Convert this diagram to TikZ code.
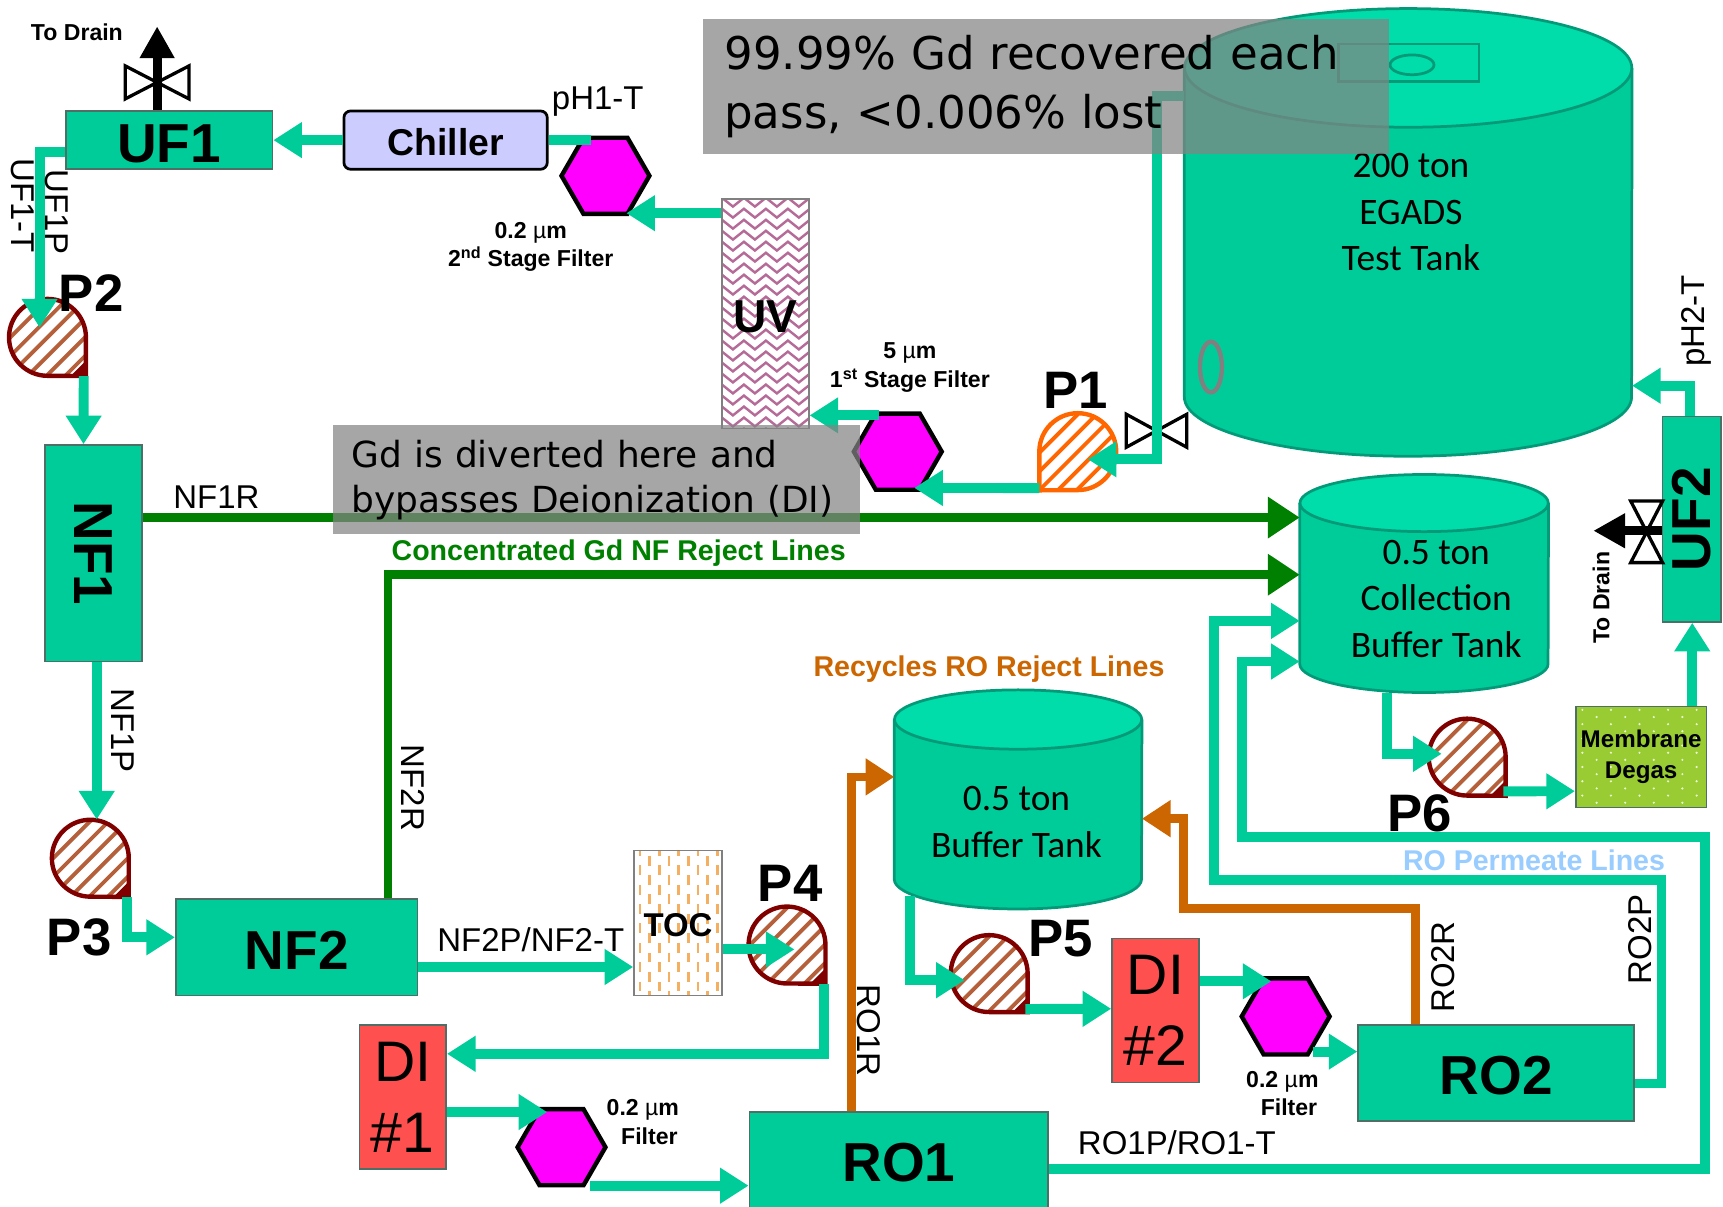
\documentclass[tikz,border=0pt]{standalone}
\usepackage{fontspec}
\usepackage{graphicx}
\usepackage{xcolor}
\usepackage{tikz}
\usetikzlibrary{arrows.meta,shapes.geometric,calc,decorations.pathmorphing}
\setmainfont{Liberation Sans}
\newfontfamily\tankfont{Carlito}
\newfontfamily\notefont{DejaVu Sans}
\definecolor{teal}{HTML}{00CC99}
\definecolor{tealtop}{HTML}{00DDAA}
\definecolor{tankbd}{HTML}{009A78}
\definecolor{boxbd}{HTML}{4F6F66}
\definecolor{nfgreen}{HTML}{008000}
\definecolor{rorange}{HTML}{CC6600}
\definecolor{direct}{HTML}{FF5050}
\definecolor{chill}{HTML}{CCCCFF}
\definecolor{degas}{HTML}{99CC33}
\definecolor{filterpink}{HTML}{FF00FF}
\definecolor{pumpred}{HTML}{800000}
\definecolor{pumphatch}{HTML}{B5603A}
\definecolor{pumporange}{HTML}{FF6600}
\definecolor{permblue}{HTML}{99CCFF}
\definecolor{notegray}{HTML}{848484}
\definecolor{uvline}{HTML}{B56A98}
\definecolor{tocdash}{HTML}{F4B060}
\newcommand{\fs}[1]{\fontsize{#1}{1.2\dimexpr#1pt\relax}\selectfont}
\newcommand{\dn}[2]{\raisebox{-#1}[\height][\depth]{#2}}
\tikzset{
  unit/.style={draw=boxbd,fill=teal,line width=1.5pt,inner sep=0pt,
               font=\fs{50}\bfseries},
  redunit/.style={draw=boxbd,fill=direct,line width=1.5pt,inner sep=0pt,
                  align=center,font=\fontsize{52}{64}\selectfont},
  tankhead/.style={rectangle,inner sep=0pt},
  tankline/.style={draw=tankbd,line width=2.5pt},
  tanktext/.style={align=center,font=\tankfont\fontsize{34}{42}\selectfont},
  hexf/.style={regular polygon,regular polygon sides=6,minimum size=80pt,
               inner sep=0pt,draw=black,fill=filterpink,line width=4pt},
  pumphead/.style={circle,minimum size=70pt,inner sep=0pt},
  pumpbody/.style 2 args={draw=#1,fill=white,line width=4pt,miter limit=10,
    path picture={\foreach \k in {-5,...,5}{
      \draw[#2,line width=3.5pt]
        ($(path picture bounding box.center)+(\k*17-50,50)$)--++(100,-100);}}},
  flow/.style={draw=teal,line width=9pt,-{Triangle[length=26pt,width=31pt]}},
  plainflow/.style={draw=teal,line width=9pt},
  reject/.style={draw=nfgreen,line width=8pt,-{Triangle[length=29pt,width=36pt]}},
  recycle/.style={draw=rorange,line width=8pt,-{Triangle[length=26pt,width=32pt]}},
  drain/.style={draw=black,line width=8pt,-{Triangle[length=29pt,width=30pt]}},
  valve/.style={draw=black,fill=white,line width=3pt},
  lbl/.style={font=\fs{30}},
  small/.style={align=center,font=\fontsize{21}{26}\selectfont\bfseries},
  pname/.style={font=\fs{48}\bfseries},
  linetitle/.style={font=\fs{26}\bfseries},
  note/.style={fill=notegray,fill opacity=.72,text opacity=1,anchor=north west,
               inner sep=0pt,align=left},
  uvfill/.style={path picture={\foreach \k in {0,...,21}{
      \draw[draw=uvline,line width=2.2pt,decorate,
            decoration={zigzag,segment length=20pt,amplitude=4pt}]
        ($(path picture bounding box.north west)+(-5,3+\k*10)$)--++(110,0);}}},
  tocfill/.style={path picture={\foreach \i in {0,...,9}{\foreach \j in {0,...,8}{
      \pgfmathsetmacro{\dy}{-4+\j*17.6+mod(\i,2)*8.8}
      \draw[draw=tocdash,line width=2.4pt]
        ($(path picture bounding box.north west)+(5.5+\i*8.8,\dy)$)--++(0,9);}}}},
  dotfill/.style={path picture={\foreach \i in {0,...,9}{\foreach \j in {0,...,7}{
      \pgfmathsetmacro{\dy}{3+\j*13+mod(\i,2)*6.5}
      \fill[white!80!degas]
        ($(path picture bounding box.north west)+(6+\i*13,\dy)$) circle (1.1pt);}}}},
}
\begin{document}
\begin{tikzpicture}[x=1pt,y=-1pt]
  \useasboundingbox (0,0) rectangle (1568,1098);
  % tanks
  \foreach \t/\cx/\cy/\rx/\ry/\h in {maintank/1281.5/211.5/203.5/54/407,
      colltank/1296/531/113/26/198,buftank/926.5/727.5/112.5/27/199}{
    \node[tankhead,minimum width=2*\rx pt,minimum height=\h pt] (\t) at (\cx,\cy){};
    \draw[tankline,fill=teal] ($(\t.north west)+(0,\ry)$) -- ($(\t.south west)+(0,-\ry)$)
      arc[x radius=\rx pt,y radius=\ry pt,start angle=180,end angle=360]
      -- ($(\t.north east)+(0,\ry)$);
    \draw[tankline,fill=tealtop] ($(\t.north)+(0,\ry)$) ellipse [x radius=\rx pt,y radius=\ry pt];
  }
  \draw[tankbd,line width=2.5pt] (1218,40) rectangle (1346,74);
  \draw[tankbd,line width=2.5pt] (1285,59) ellipse (20 and 9);
  \draw[gray,line width=4pt] (1102,334) ellipse (10 and 23);
  \node[tanktext] (maintxt) at (1284,193){200 ton\\EGADS\\Test Tank};
  \node[tanktext] (colltxt) at (1307,545){0.5 ton\\Collection\\Buffer Tank};
  \node[tanktext] (buftxt) at (925,748){0.5 ton\\Buffer Tank};
  % units
  \node[unit,minimum width=188pt,minimum height=53pt] (uf1) at (154,127.5){\dn{3pt}{UF1}};
  \node[draw=black,fill=chill,rounded corners=6pt,line width=2.5pt,minimum width=185pt,
        minimum height=53pt,inner sep=0pt,font=\fs{34}\bfseries] (chiller) at (405.5,127.5){\dn{2pt}{Chiller}};
  \node[unit,minimum width=88pt,minimum height=197pt] (nf1) at (85,503.5){\rotatebox{-90}{NF1}};
  \node[unit,minimum width=220pt,minimum height=88pt] (nf2) at (270,862){\dn{3pt}{NF2}};
  \node[unit,minimum width=272pt,minimum height=92pt] (ro1) at (818,1058){RO1};
  \node[unit,minimum width=251pt,minimum height=87pt] (ro2) at (1361.5,976.5){\dn{2pt}{RO2}};
  \node[unit,minimum width=53pt,minimum height=187pt] (uf2) at (1539.5,472.5){\rotatebox{90}{UF2}};
  \node[redunit,minimum width=79pt,minimum height=131pt] (di1) at (366.5,998.5){DI\\\#1};
  \node[redunit,minimum width=79pt,minimum height=131pt] (di2) at (1051.5,919.5){DI\\\#2};
  \node[draw=gray,fill=white,line width=1.5pt,uvfill,minimum width=79pt,minimum height=209pt,
        inner sep=0pt,font=\fs{42}\bfseries] (uv) at (696.5,285.5){\dn{3pt}{UV}};
  \node[draw=gray,fill=white,line width=1.5pt,tocfill,minimum width=80pt,minimum height=132pt,
        inner sep=0pt,font=\fs{30}\bfseries] (toc) at (617,840){\dn{2pt}{TOC}};
  \node[draw=boxbd,fill=degas,line width=1.5pt,dotfill,minimum width=119pt,minimum height=92pt,
        inner sep=0pt,align=center,font=\fontsize{22}{28}\selectfont\bfseries] (degas) at (1493.5,689){Membrane\\Degas};
  % filters
  \node[hexf] (hex1) at (817,411){};
  \node[hexf] (hex2) at (551,160){};
  \node[hexf] (hex3) at (511,1044){};
  \node[hexf] (hex4) at (1170,925){};
  % pumps
  \foreach \p/\x/\y in {p2/43/307,p3/82/781,p4/716/860,p5/900/886,p6/1335/689}{
    \node[pumphead] (\p) at (\x,\y){};
    \draw[pumpbody={pumpred}{pumphatch}] (\p.east) arc[start angle=0,end angle=270,radius=35pt]
      -- (\p.east |- \p.south) -- cycle;
    \fill[pumpred] (\p.east |- \p.south) -- ++(-14,0) -- ++(14,-14) -- cycle;
  }
  \node[pumphead] (p1) at (981,411){};
  \draw[pumpbody={pumporange}{pumporange}] (p1.west) arc[start angle=180,end angle=-90,radius=35pt]
    -- (p1.west |- p1.south) -- cycle;
  % valves
  \draw[valve] (114,60)--(172,90)--(172,60)--(114,90)--cycle;
  \draw[valve] (1025,377)--(1080,407)--(1080,377)--(1025,407)--cycle;
  \draw[valve] (1484,456)--(1513,512)--(1484,512)--(1513,456)--cycle;
  % drains
  \coordinate (drain1) at (143,24);
  \coordinate (drain2) at (1450,483);
  \draw[drain] (uf1.north -| 143,0) -- (drain1);
  \draw[drain] (uf2.west |- 0,483) -- (drain2);
  % process line
  \draw[flow] (chiller.west) -- (uf1.east);
  \draw[plainflow] (chiller.east) -- (538,127.5);
  \draw[flow] (uv.west |- 0,194) -- (570,194);
  \draw[flow] (uf1.west |- 0,138) -| ([xshift=-7pt,yshift=9pt]p2.center);
  \draw[flow] (p2.east |- p2.south) ++(-2,0) -- (nf1.north -| 76,0);
  \draw[flow] (nf1.south -| 88,0) -- (p3.north -| 88,0);
  \draw[flow] (p3.east |- p3.south) ++(-2,0) |- (nf2.west |- 0,853);
  \draw[flow] (nf2.east |- 0,880) -- (toc.west |- 0,880);
  \draw[flow] (toc.east |- 0,864) -- ([xshift=7pt,yshift=-4pt]p4.center);
  \draw[flow] (p4.east |- p4.south) ++(-1,0) |- (di1.east |- 0,959);
  \draw[flow] (di1.east |- 0,1012) -- (498,1012);
  \draw[flow] (537,1079) -- (ro1.west |- 0,1079);
  \draw[flow] (buftank.west |- 0,815) ++(14,0) |- ([xshift=-22pt,yshift=-6pt]p5.center);
  \draw[flow] (p5.east |- p5.south) ++(-2,-3) -- (di2.west |- 0,918);
  \draw[flow] (di2.east |- 0,893) -- (1157,893);
  \draw[flow] (1195,957) -- (ro2.west |- 0,957);
  \draw[flow] (colltank.south -| 1262,0) |- ([xshift=-23pt,yshift=3pt]p6.center);
  \draw[flow] (p6.east |- p6.south) ++(-2,-4) -- (degas.west |- 0,720);
  \draw[flow] (degas.north -| 1540,0) -- (uf2.south -| 1540,0);
  \draw[flow] (uf2.north -| 1538,0) |- (maintank.east |- 0,351);
  \draw[flow] (p1.west |- p1.south) ++(0,-2) -- (832,444);
  \draw[flow] (800,378) -- (uv.east |- 0,378);
  \draw[flow] (maintank.west |- 0,87) -| (1053,418) -- ([xshift=9pt,yshift=-7pt]p1.center);
  % RO permeate
  \draw[flow] (ro1.east |- 0,1064) -| (1552,762) -| (1130,602) -- (colltank.west |- 0,602);
  \draw[flow] (ro2.east |- 0,986) -| (1512,801) -| (1105,565) -- (colltank.west |- 0,565);
  % rejects
  \draw[reject] (nf1.east |- 0,471) -- (colltank.west |- 0,471);
  \draw[reject] (nf2.north -| 353,0) |- (colltank.west |- 0,523);
  \draw[recycle] (ro1.north -| 775,0) |- (buftank.west |- 0,707);
  \draw[recycle] (ro2.north -| 1288,0) -- (1288,827) -| (1077,745) -- (buftank.east |- 0,745);
  % labels
  \node[font=\fontsize{21}{26}\selectfont\bfseries] (todrain1) at (70,29){To Drain};
  \node[small,rotate=90] (todrain2) at (1457,544){To Drain};
  \node[lbl] (ph1) at (544,92.5){pH1-T};
  \node[lbl,rotate=90] (ph2) at (1544,292){pH2-T};
  \node[lbl,rotate=-90] (uf1p) at (52,193){UF1P};
  \node[lbl,rotate=-90] (uf1t) at (21,187){UF1-T};
  \node[lbl] (nf1r) at (197,452){NF1R};
  \node[lbl,rotate=-90] (nf1p) at (112,665){NF1P};
  \node[lbl,rotate=-90] (nf2r) at (376,717){NF2R};
  \node[lbl] (nf2p) at (483,855){NF2P/NF2-T};
  \node[lbl,rotate=-90] (ro1r) at (791,938){RO1R};
  \node[lbl] (ro1p) at (1071,1040){RO1P/RO1-T};
  \node[lbl,rotate=90] (ro2r) at (1313,880){RO2R};
  \node[lbl,rotate=90] (ro2p) at (1493,855){RO2P};
  \node[small] (f2lab) at (483,224.5){0.2 {\mdseries µ}m\\2\textsuperscript{nd} Stage Filter};
  \node[small] (f1lab) at (828,334.5){5 {\mdseries µ}m\\1\textsuperscript{st} Stage Filter};
  \node[small] (f3lab) at (585,1021){0.2 {\mdseries µ}m\\\hspace*{12pt}Filter};
  \node[small] (f4lab) at (1167,995){0.2 {\mdseries µ}m\\\hspace*{12pt}Filter};
  \node[pname] (lp1) at (979,355){P1};
  \node[pname] (lp2) at (83,267){P2};
  \node[pname] (lp3) at (72,853){P3};
  \node[pname] (lp4) at (719,804){P4};
  \node[pname] (lp5) at (965,854){P5};
  \node[pname] (lp6) at (1292,740){P6};
  \node[linetitle,nfgreen] (nfline) at (563,503){Concentrated Gd NF Reject Lines};
  \node[linetitle,rorange] (roline) at (900,609){Recycles RO Reject Lines};
  \node[linetitle,permblue] (permline) at (1396,783){RO Permeate Lines};
  % notes
  \node[note,minimum width=624pt,minimum height=123pt,text width=586pt,
        font=\notefont\fontsize{41}{53}\selectfont] (note1) at (640,17){99.99\% Gd recovered each\\pass, <0.006\% lost};
  \node[note,minimum width=479pt,minimum height=99pt,text width=445pt,
        font=\notefont\fontsize{32.7}{41}\selectfont] (note2) at (303,387){Gd is diverted here and\\bypasses Deionization (DI)};
\end{tikzpicture}
\end{document}
